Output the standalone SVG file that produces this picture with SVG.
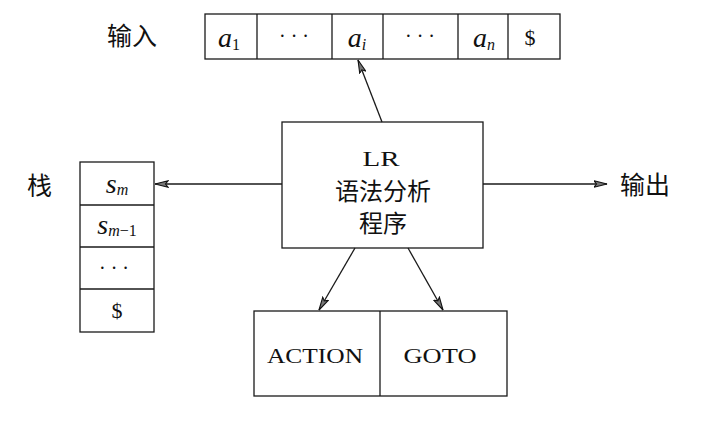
<svg xmlns="http://www.w3.org/2000/svg" width="722" height="424" viewBox="0 0 722 424">
<style>
.box{fill:none;stroke:#1a1a1a;stroke-width:1.3}
.ln{fill:none;stroke:#1a1a1a;stroke-width:1.3}
.cjk{font-family:"Noto Sans CJK SC","Noto Sans CJK JP",sans-serif;font-size:25px;fill:#111}
.c24{font-size:24px}
.rm{font-family:"Liberation Serif","Times New Roman",serif;fill:#111}
.it{font-family:"Liberation Serif","Times New Roman",serif;font-style:italic;fill:#111}
.dots{font-family:"Liberation Serif",serif;font-size:20px;fill:#111}
.big{font-size:28px}
.mid{font-size:22px}
.sub{font-size:16px}
</style>
<defs>
<marker id="ah" viewBox="0 0 14 8" refX="13.5" refY="4" markerWidth="14" markerHeight="8" markerUnits="userSpaceOnUse" orient="auto">
<path d="M0.5,0.8 L13.5,4 L0.5,7.2 L3,4 Z" fill="#777" stroke="#111" stroke-width="1.1"/>
</marker>
</defs>
<rect width="722" height="424" fill="#fff"/>

<g id="input-label"><text class="cjk" x="107" y="45">输入</text></g>

<g id="input-tape">
<rect class="box" x="205" y="14" width="355" height="45"/>
<line class="ln" x1="257" y1="14" x2="257" y2="59"/>
<line class="ln" x1="332" y1="14" x2="332" y2="59"/>
<line class="ln" x1="383" y1="14" x2="383" y2="59"/>
<line class="ln" x1="458" y1="14" x2="458" y2="59"/>
<line class="ln" x1="508" y1="14" x2="508" y2="59"/>
<text x="229" y="47" text-anchor="middle"><tspan class="it big">a</tspan><tspan class="rm sub" dy="3">1</tspan></text>
<text class="dots" x="294" y="43" text-anchor="middle">· · ·</text>
<text x="357" y="47" text-anchor="middle"><tspan class="it big">a</tspan><tspan class="it sub" dy="3">i</tspan></text>
<text class="dots" x="420" y="43" text-anchor="middle">· · ·</text>
<text x="484" y="47" text-anchor="middle"><tspan class="it big">a</tspan><tspan class="it sub" dy="3">n</tspan></text>
<text class="rm mid" x="530" y="45" text-anchor="middle">$</text>
</g>

<g id="stack-label"><text class="cjk" x="27" y="195">栈</text></g>

<g id="stack">
<rect class="box" x="80" y="162" width="74" height="170"/>
<line class="ln" x1="80" y1="205" x2="154" y2="205"/>
<line class="ln" x1="80" y1="247" x2="154" y2="247"/>
<line class="ln" x1="80" y1="289" x2="154" y2="289"/>
<text x="117" y="193" text-anchor="middle"><tspan class="it big">s</tspan><tspan class="it sub" dy="2">m</tspan></text>
<text x="117" y="234" text-anchor="middle"><tspan class="it big">s</tspan><tspan class="it sub" dy="2">m</tspan><tspan class="rm sub">−1</tspan></text>
<text class="dots" x="114" y="275" text-anchor="middle">· · ·</text>
<text class="rm mid" x="117" y="318" text-anchor="middle">$</text>
</g>

<g id="parser">
<rect class="box" x="282" y="122" width="201" height="126"/>
<text class="rm mid" x="381" y="166" text-anchor="middle" textLength="37" lengthAdjust="spacingAndGlyphs">LR</text>
<text class="cjk c24" x="383" y="200" text-anchor="middle">语法分析</text>
<text class="cjk c24" x="383" y="232" text-anchor="middle">程序</text>
</g>

<g id="output-label"><text class="cjk" x="620" y="194">输出</text></g>

<g id="tables">
<rect class="box" x="254" y="311" width="253" height="85"/>
<line class="ln" x1="380" y1="311" x2="380" y2="396"/>
<text class="rm mid" x="315" y="363" text-anchor="middle" textLength="96" lengthAdjust="spacingAndGlyphs">ACTION</text>
<text class="rm mid" x="440" y="363" text-anchor="middle" textLength="73" lengthAdjust="spacingAndGlyphs">GOTO</text>
</g>

<g id="connectors">
<line class="ln" x1="382" y1="122" x2="358" y2="60" marker-end="url(#ah)"/>
<line class="ln" x1="282" y1="184" x2="155" y2="184" marker-end="url(#ah)"/>
<line class="ln" x1="483" y1="184" x2="607" y2="184" marker-end="url(#ah)"/>
<line class="ln" x1="355" y1="248" x2="319" y2="310" marker-end="url(#ah)"/>
<line class="ln" x1="408" y1="248" x2="443" y2="310" marker-end="url(#ah)"/>
</g>
</svg>
